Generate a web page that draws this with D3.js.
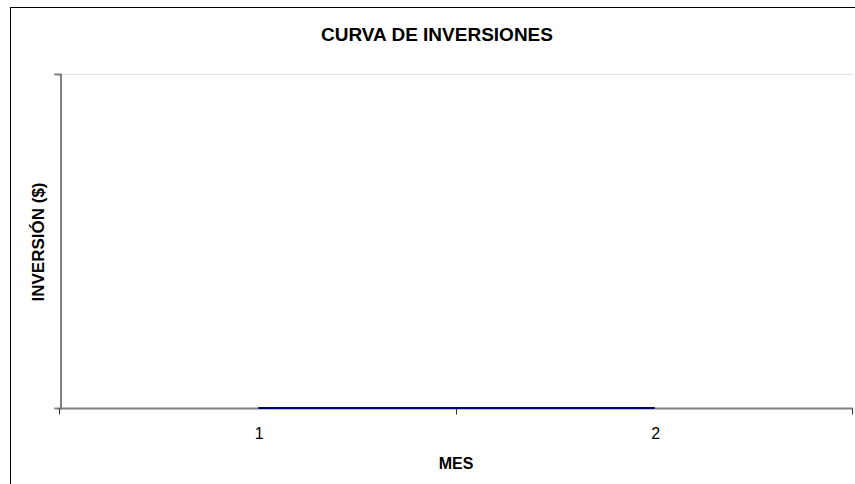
<!DOCTYPE html>
<html>
<head>
<meta charset="utf-8">
<script src="https://cdn.jsdelivr.net/npm/d3@7"></script>
<style>
  body { margin: 0; background: #fff; }
  text { font-family: "Liberation Sans", Arial, sans-serif; }
</style>
</head>
<body>
<svg id="chart"></svg>
<script>
var meses = ["1", "2"];
var inversion = [0, 0];
var yTicks = [0, 1];

var w = 855;
var h = 484;
var margin = { left: 60, top: 74, right: 2, bottom: 76 };

var svg = d3.select("#chart")
    .attr("width", w)
    .attr("height", h);

// outer chart frame (extends past the window on right and bottom)
svg.append("rect")
    .attr("x", 10.5)
    .attr("y", 7.5)
    .attr("width", 900)
    .attr("height", 600)
    .style("fill", "none")
    .style("stroke", "#000")
    .style("stroke-width", 1);

var x = d3.scaleBand()
    .domain(meses)
    .range([margin.left, w - margin.right]);

var y = d3.scaleLinear()
    .domain([0, 1])
    .range([h - margin.bottom, margin.top]);

// gridline at top
svg.selectAll("line.grid")
    .data(yTicks.slice(1))
    .enter()
    .append("line")
    .attr("class", "grid")
    .attr("x1", margin.left)
    .attr("x2", w - margin.right)
    .attr("y1", function (d) { return Math.round(y(d)) + 0.5; })
    .attr("y2", function (d) { return Math.round(y(d)) + 0.5; })
    .style("stroke", "#e0e0e0");

// y axis
var yAxis = svg.append("g")
    .attr("transform", "translate(" + (margin.left + 0.5) + ",0)")
    .call(d3.axisLeft(y).tickValues(yTicks).tickSize(6).tickFormat(""));
yAxis.select(".domain").style("stroke", "#808080").style("stroke-width", 2);
yAxis.selectAll(".tick line").style("stroke", "#808080");

// x axis, ticks between categories
var xAxis = svg.append("g")
    .attr("transform", "translate(0," + (y(0) + 0.5) + ")");
xAxis.append("line")
    .attr("x1", margin.left)
    .attr("x2", w - margin.right)
    .style("stroke", "#808080")
    .style("stroke-width", 2);
var edges = [x.range()[0]].concat(meses.map(function (d) { return x(d) + x.bandwidth(); }));
xAxis.selectAll("line.tk")
    .data(edges)
    .enter()
    .append("line")
    .attr("class", "tk")
    .attr("x1", function (d) { return Math.round(d) - 0.5; })
    .attr("x2", function (d) { return Math.round(d) - 0.5; })
    .attr("y1", 0)
    .attr("y2", 6)
    .style("stroke", "#333");
xAxis.selectAll("text")
    .data(meses)
    .enter()
    .append("text")
    .attr("x", function (d) { return x(d) + x.bandwidth() / 2 + 1; })
    .attr("y", 30)
    .attr("text-anchor", "middle")
    .style("font-size", "16px")
    .text(function (d) { return d; });

// series line
var line = d3.line()
    .x(function (d, i) { return x(meses[i]) + x.bandwidth() / 2; })
    .y(function (d) { return y(d); });
svg.append("path")
    .datum(inversion)
    .attr("d", line)
    .style("fill", "none")
    .style("stroke", "#000080")
    .style("stroke-width", 2);

// titles
svg.append("text")
    .attr("x", 437)
    .attr("y", 41)
    .attr("text-anchor", "middle")
    .style("font-size", "19px")
    .style("font-weight", "bold")
    .text("CURVA DE INVERSIONES");

svg.append("text")
    .attr("x", 456)
    .attr("y", 469)
    .attr("text-anchor", "middle")
    .style("font-size", "16px")
    .style("font-weight", "bold")
    .text("MES");

svg.append("text")
    .attr("transform", "translate(44,242) rotate(-90)")
    .attr("text-anchor", "middle")
    .style("font-size", "17px")
    .style("font-weight", "bold")
    .text("INVERSIÓN ($)");
</script>
</body>
</html>
